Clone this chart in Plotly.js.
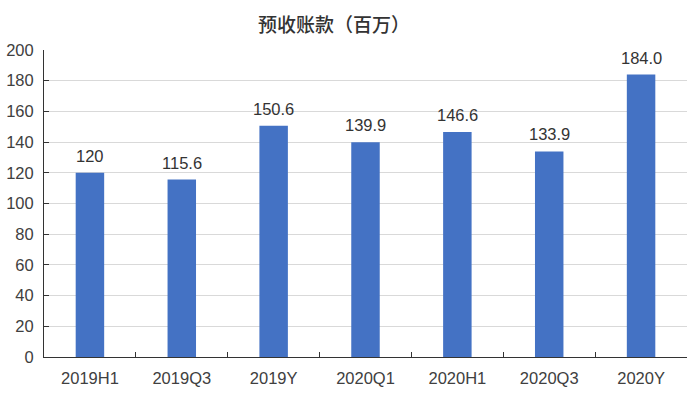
<!DOCTYPE html>
<html>
<head>
<meta charset="utf-8">
<script src="https://cdn.plot.ly/plotly-3.0.1.min.js"></script>
<style>html,body{margin:0;padding:0;background:#fff;}#chart{width:700px;height:397px;}</style>
</head>
<body>
<div id="chart"></div>
<script>
const categories = ["2019H1", "2019Q3", "2019Y", "2020Q1", "2020H1", "2020Q3", "2020Y"];
const values = [120, 115.6, 150.6, 139.9, 146.6, 133.9, 184.0];
const labels = ["120", "115.6", "150.6", "139.9", "146.6", "133.9", "184.0"];
const yTicks = [0, 20, 40, 60, 80, 100, 120, 140, 160, 180, 200];

const titleFont = "'Noto Sans CJK SC', 'Noto Sans', sans-serif";
const numFont = "'Liberation Sans', Arial, sans-serif";

const trace = {
  type: "bar",
  x: categories,
  y: values,
  marker: {color: "#4472C4"},
  hoverinfo: "none"
};

const annotations = categories.map((c, i) => ({
  x: c, y: values[i], xref: "x", yref: "y",
  text: labels[i], showarrow: false,
  yanchor: "bottom", yshift: 6,
  font: {family: numFont, size: 16.5, color: "#333333"}
}));

const layout = {
  width: 700, height: 397,
  margin: {l: 44, r: 13, t: 50, b: 40},
  paper_bgcolor: "#ffffff", plot_bgcolor: "#ffffff",
  bargap: 0.69,
  showlegend: false,
  title: {
    text: "预收账款（百万）",
    x: 0.477, xref: "container", xanchor: "center",
    y: 0.935, yref: "container", yanchor: "middle",
    font: {family: titleFont, size: 19, color: "#333333", weight: 500}
  },
  xaxis: {
    type: "category",
    tickson: "boundaries",
    ticks: "inside", ticklen: 5, tickcolor: "#333333", tickwidth: 1,
    showline: true, linecolor: "#333333", linewidth: 1,
    showgrid: false, zeroline: false,
    ticklabelstandoff: 6,
    tickfont: {family: numFont, size: 16.5, color: "#404040"},
    fixedrange: true
  },
  yaxis: {
    range: [0, 200],
    tickvals: yTicks,
    ticktext: yTicks.map(String),
    ticks: "inside", ticklen: 5, tickcolor: "#333333", tickwidth: 1,
    showline: true, linecolor: "#333333", linewidth: 1,
    showgrid: true, gridcolor: "#d9d9d9", gridwidth: 1,
    zeroline: false,
    ticklabelstandoff: 6,
    tickfont: {family: numFont, size: 16.5, color: "#404040"},
    fixedrange: true
  },
  annotations: annotations
};

Plotly.newPlot("chart", [trace], layout, {displayModeBar: false, staticPlot: true});
</script>
</body>
</html>
